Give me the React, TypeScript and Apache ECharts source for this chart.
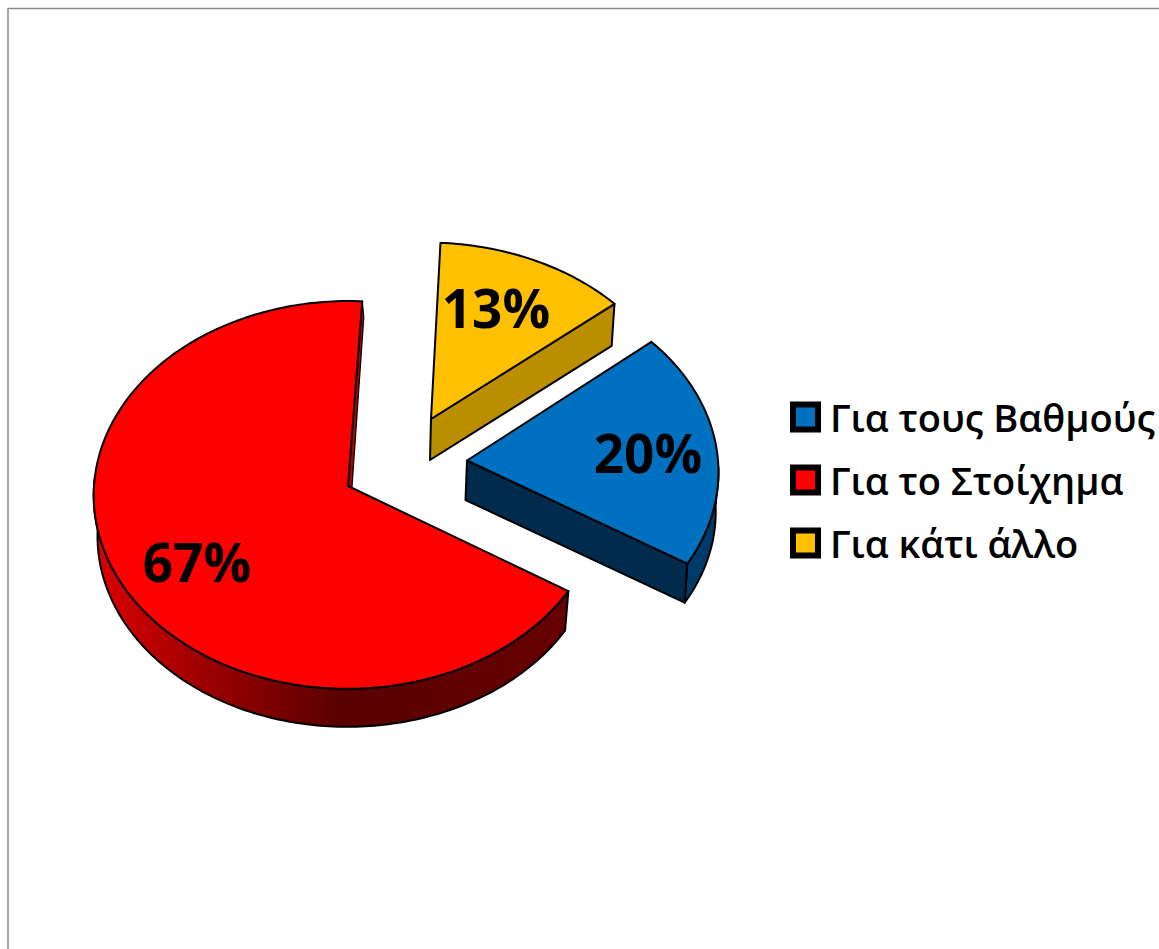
import React, { useEffect, useRef } from "react";
import * as echarts from "echarts";

const categories = ["Για τους Βαθμούς", "Για το Στοίχημα", "Για κάτι άλλο"];
const shares = [20, 67, 13];
const topColors = ["#0070C0", "#FF0000", "#FFC000"];
const firstSliceAngle = 50;
const perspective = 0.046;

const sliceGeometry = [
  { cx: 467, cy: 460.5, r: 251, ry: 190, shear: -0.02, sc: 0.995, dx: -1.5, depth: 39.5, lx: 181, ly: -8 },
  { cx: 348, cy: 486, r: 254, ry: 193.5, shear: 0.004, sc: 0.985, dx: 0, depth: 41, lx: -151, ly: 75 },
  { cx: 431, cy: 419, r: 250, ry: 184.5, shear: -0.022, sc: 0.99, dx: -1, depth: 41, lx: 65, ly: -112 },
];

const FONT = "'Open Sans', 'Noto Sans', sans-serif";

function sliceRange(index: number) {
  const total = shares.reduce((a, b) => a + b, 0);
  let start = firstSliceAngle;
  for (let i = 0; i < index; i++) start += (shares[i] / total) * 360;
  return [start, start + (shares[index] / total) * 360];
}

function rimPoint(g: any, deg: number) {
  const t = (deg * Math.PI) / 180;
  const s = 1 / (1 + perspective * Math.cos(t));
  return [
    g.cx + g.r * Math.sin(t) * s + g.shear * g.ry * Math.cos(t) * s,
    g.cy - g.ry * Math.cos(t) * s,
  ];
}

function lower(g: any, p: number[]) {
  return [g.cx + (p[0] - g.cx) * g.sc + g.dx, g.cy + (p[1] - g.cy) * g.sc + g.depth];
}

function arc(g: any, a: number, b: number) {
  const n = Math.max(2, Math.ceil(Math.abs(b - a)));
  const pts: number[][] = [];
  for (let i = 0; i <= n; i++) pts.push(rimPoint(g, a + ((b - a) * i) / n));
  return pts;
}

const stroke = { stroke: "#000", lineWidth: 2, lineJoin: "round" as const };

function renderSlice(index: number) {
  return (_params: any, api: any) => {
    const value = api.value(0);
    const g = sliceGeometry[index];
    const [a, b] = sliceRange(index);
    const apex = [g.cx, g.cy];
    const children: any[] = [];
    const startRim = rimPoint(g, a);
    const endRim = rimPoint(g, b);

    if (index === 0) {
      const wall = arc(g, 92, b);
      children.push({
        type: "polygon",
        shape: { points: [...wall, ...wall.map((p) => lower(g, p)).reverse()] },
        style: { fill: "#003A68", ...stroke },
      });
      children.push({
        type: "polygon",
        shape: { points: [apex, endRim, lower(g, endRim), lower(g, apex)] },
        style: { fill: "#002B4D", ...stroke },
      });
    }
    if (index === 1) {
      const wall = arc(g, a, 272);
      children.push({
        type: "polygon",
        shape: { points: [...wall, ...wall.map((p) => lower(g, p)).reverse()] },
        style: {
          fill: new echarts.graphic.LinearGradient(0, 0, 1, 0, [
            { offset: 0, color: "#DC0000" },
            { offset: 0.25, color: "#980000" },
            { offset: 0.52, color: "#5A0000" },
            { offset: 1, color: "#660000" },
          ]),
          ...stroke,
        },
      });
      children.push({
        type: "polygon",
        shape: {
          points: [apex, endRim, [endRim[0] + 1.5, endRim[1] + 16], [apex[0] + 4, apex[1] + 1]],
        },
        style: { fill: "#B00000", ...stroke, lineWidth: 1.2 },
      });
    }
    if (index === 2) {
      const wallEnd = lower(g, endRim);
      children.push({
        type: "polygon",
        shape: { points: [apex, endRim, wallEnd, lower(g, apex)] },
        style: { fill: "#BB8E00", ...stroke },
      });
    }

    children.push({
      type: "polygon",
      shape: { points: [apex, startRim, ...arc(g, a, b)] },
      style: { fill: topColors[index], ...stroke },
    });
    children.push({
      type: "text",
      style: {
        text: `${value}%`,
        x: g.cx + g.lx,
        y: g.cy + g.ly,
        align: "center",
        verticalAlign: "middle",
        fill: "#000",
        fontFamily: FONT,
        fontSize: 53,
        fontWeight: "bold",
      },
    });
    return { type: "group", children };
  };
}

export default function App() {
  const ref = useRef<HTMLDivElement>(null);
  useEffect(() => {
    const chart = echarts.init(ref.current!, undefined, { renderer: "svg" });
    chart.setOption({
      animation: false,
      backgroundColor: "#fff",
      legend: {
        orient: "vertical",
        left: 785,
        top: 393,
        itemWidth: 25,
        itemHeight: 25,
        itemGap: 25,
        selectedMode: false,
        data: categories.map((name, i) => ({
          name,
          icon: "rect",
          itemStyle: { color: topColors[i], borderColor: "#000", borderWidth: 6 },
        })),
        textStyle: {
          fontFamily: FONT,
          fontSize: 38,
          fontWeight: 600,
          color: "#000",
          padding: [0, 0, 0, 7],
        },
      },
      graphic: [
        { type: "line", shape: { x1: 8, y1: 8.5, x2: 1159, y2: 8.5 }, style: { stroke: "#8A8A8A", lineWidth: 1.5 } },
        { type: "line", shape: { x1: 8, y1: 8, x2: 8, y2: 949 }, style: { stroke: "#8A8A8A", lineWidth: 1.5 } },
      ],
      series: categories.map((name, i) => ({
        type: "custom",
        name,
        coordinateSystem: "none",
        itemStyle: { color: topColors[i] },
        renderItem: renderSlice(i),
        data: [[shares[i]]],
      })),
    });
    return () => chart.dispose();
  }, []);
  return (
    <div
      ref={ref}
      style={{ position: "absolute", left: 0, top: 0, width: 1159, height: 949, overflow: "hidden" }}
    />
  );
}
